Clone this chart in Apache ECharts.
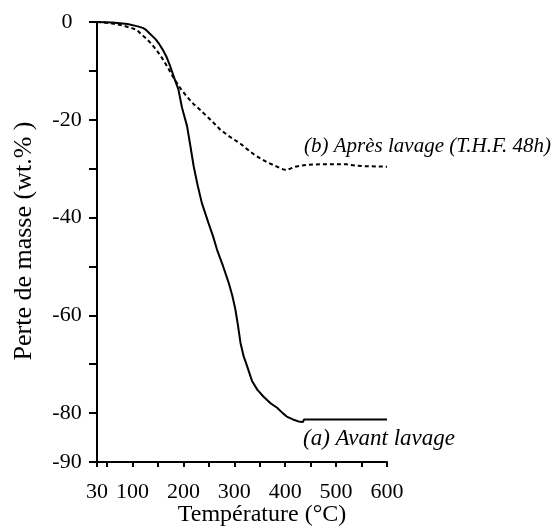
<!DOCTYPE html>
<html>
<head>
<meta charset="utf-8">
<script src="https://cdn.jsdelivr.net/npm/echarts@6/dist/echarts.min.js"></script>
<style>
html,body{margin:0;padding:0;background:#fff;}
#c{width:560px;height:530px;}
</style>
</head>
<body>
<div id="c"></div>
<script>
// Curve (a) Avant lavage: temperature (°C) and mass loss (wt.%)
var tempA = [30, 60, 90, 110, 120, 125, 135, 145, 151, 160, 166, 174, 184, 190, 197, 207, 213, 220, 228, 236, 249, 258, 266, 278, 289, 296, 302, 307, 312, 318, 325, 335, 345, 357, 370, 384, 395, 403, 415, 426, 435, 437, 600];
var lossA = [0, -0.1, -0.4, -0.9, -1.2, -1.5, -2.5, -3.5, -4.3, -5.8, -7.0, -9.1, -12.1, -13.8, -17.5, -21.3, -25, -29.5, -33.5, -37, -41.1, -43.8, -46.6, -50, -53.4, -56, -58.8, -62, -65.6, -68.3, -70.4, -73.5, -75.2, -76.6, -77.9, -78.9, -80, -80.7, -81.3, -81.7, -81.8, -81.3, -81.3];
// Curve (b) Après lavage (T.H.F. 48h)
var tempB = [30, 53, 80, 100, 108, 118, 128, 138, 148, 158, 168, 177, 186, 194, 207, 220, 233, 249, 260, 272, 290, 312, 325, 340, 351, 365, 384, 395, 402, 410, 420, 430, 445, 470, 500, 520, 540, 560, 600];
var lossB = [0, -0.2, -0.7, -1.3, -1.6, -2.6, -3.5, -4.6, -5.9, -7.4, -9.1, -10.8, -12.3, -13.6, -15.3, -16.8, -18.0, -19.6, -20.7, -22.0, -23.4, -24.9, -26, -27.2, -27.9, -28.7, -29.6, -30.1, -30.3, -30.0, -29.6, -29.4, -29.2, -29.1, -29.1, -29.1, -29.4, -29.5, -29.6];
// Axis ticks and labels
var xLabelValues = [30, 100, 200, 300, 400, 500, 600];
var xTickValues = [30, 50, 100, 150, 200, 250, 300, 350, 400, 450, 500, 550, 600];
var yLabelValues = [0, -20, -40, -60, -80, -90];
var yTickValues = [0, -10, -20, -30, -40, -50, -60, -70, -80, -90];
var labelA = '(a) Avant lavage';
var labelB = '(b) Après lavage (T.H.F. 48h)';
var xTitle = 'Température (°C)';
var yTitle = 'Perte de masse (wt.% )';

function pairs(xs, ys) { return xs.map(function (x, i) { return [x, ys[i]]; }); }

var FONT = '"Liberation Serif", "Times New Roman", serif';
var chart = echarts.init(document.getElementById('c'), null, {renderer: 'canvas'});
chart.setOption({
  animation: false,
  backgroundColor: '#ffffff',
  grid: {left: 97, right: 173, top: 22, bottom: 68, containLabel: false},
  xAxis: {
    type: 'value', min: 30, max: 600,
    axisLine: {show: true, onZero: false, lineStyle: {color: '#000', width: 2}},
    axisTick: {show: true, inside: false, length: 5, customValues: xTickValues, lineStyle: {color: '#000', width: 2}},
    axisLabel: {customValues: xLabelValues, color: '#000', fontFamily: FONT, fontSize: 22, margin: 19},
    splitLine: {show: false}
  },
  yAxis: {
    type: 'value', min: -90, max: 0,
    axisLine: {show: true, onZero: false, lineStyle: {color: '#000', width: 2}},
    axisTick: {show: true, inside: false, length: 8, customValues: yTickValues, lineStyle: {color: '#000', width: 2}},
    axisLabel: {customValues: yLabelValues, color: '#000', fontFamily: FONT, fontSize: 22, margin: 30, align: 'center'},
    splitLine: {show: false}
  },
  series: [
    {type: 'line', data: pairs(tempA, lossA), showSymbol: false, symbol: 'none',
     lineStyle: {color: '#000', width: 2}},
    {type: 'line', data: pairs(tempB, lossB), showSymbol: false, symbol: 'none',
     lineStyle: {color: '#000', width: 2, type: [4, 3]}}
  ],
  graphic: [
    {type: 'text', x: 262, y: 515, style: {text: xTitle, fill: '#000', font: '24px ' + FONT, align: 'center', verticalAlign: 'middle'}},
    {type: 'text', x: 24, y: 241, rotation: Math.PI / 2, style: {text: yTitle, fill: '#000', font: '26px ' + FONT, align: 'center', verticalAlign: 'middle'}},
    {type: 'text', x: 304, y: 146, style: {text: labelB, fill: '#000', font: 'italic 21px ' + FONT, align: 'left', verticalAlign: 'middle'}},
    {type: 'text', x: 303, y: 439, style: {text: labelA, fill: '#000', font: 'italic 23px ' + FONT, align: 'left', verticalAlign: 'middle'}}
  ]
});
</script>
</body>
</html>
